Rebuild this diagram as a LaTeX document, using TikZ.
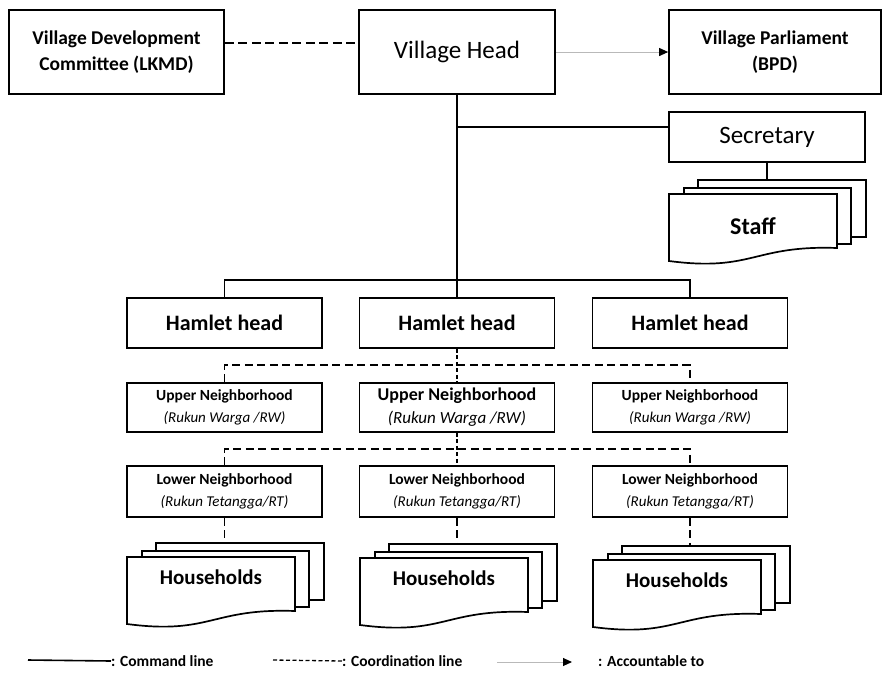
\documentclass[tikz,border=0pt]{standalone}
\usepackage{fontspec}
\setmainfont{Carlito}
\usetikzlibrary{arrows.meta}
\newcommand\mydocstack[6]{%
  \begin{scope}[shift={(#2,#3)}]
    \node[page, minimum width=168pt, minimum height=57pt] (#1-back) at (28,-15) {};
    \node[page, minimum width=167pt, minimum height=56pt] (#1-mid) at (14,-7) {};
    \draw[pageline] (0,0) -- (168,0) -- (168,54) .. controls (84,51) and (84,78) .. (0,67) -- cycle;
    \node[font=#5] (#1) at (84,#4) {#6};
  \end{scope}}
\begin{document}
\begin{tikzpicture}[x=1pt,y=-1pt,
  box/.style={draw, line width=1.7pt, fill=white, inner sep=0pt, align=center,
              minimum width=195pt, minimum height=50pt},
  page/.style={draw, line width=1.7pt, fill=white, inner sep=0pt, anchor=north west},
  pageline/.style={draw, line width=1.7pt, fill=white},
  cmd/.style={line width=1.7pt},
  coordl/.style={line width=1.6pt, dash pattern=on 8pt off 4.5pt},
  fine/.style={line width=1.3pt, dash pattern=on 4pt off 2.5pt},
  acc/.style={draw=gray!55, line width=1pt, -{Triangle[color=black,length=9pt,width=8pt]}},
  topf/.style={font=\fontsize{19.5}{26}\selectfont\bfseries},
  bigf/.style={font=\fontsize{25}{30}\selectfont},
  hamf/.style={font=\fontsize{22}{26}\selectfont\bfseries},
  nbf/.style={font=\fontsize{15.5}{22}\selectfont},
  nbbig/.style={font=\fontsize{18}{23}\selectfont},
  legf/.style={font=\fontsize{15.5}{17}\selectfont\bfseries, inner sep=0pt, anchor=west}
]
\useasboundingbox (0,0) rectangle (883,675);

% top row
\node[box, topf, minimum width=215pt, minimum height=84pt] (lkmd) at (116.5,52)
  {Village Development\\Committee (LKMD)};
\node[box, bigf, minimum width=196pt, minimum height=84pt] (vh) at (457,52) {Village Head};
\node[box, topf, minimum width=212pt, minimum height=84pt] (bpd) at (775,52)
  {Village Parliament\\(BPD)};
\node[box, bigf, minimum width=196pt, minimum height=50pt] (sec) at (767,137) {Secretary};

% staff
\mydocstack{staff}{669}{194}{32}{\fontsize{24}{28}\selectfont\bfseries}{Staff}

% hamlet heads
\node[box, hamf] (h1) at (224.5,323) {Hamlet head};
\node[box, hamf] (h2) at (457,323) {Hamlet head};
\node[box, hamf] (h3) at (690,323) {Hamlet head};

% upper neighborhoods
\node[box, nbf, minimum height=49pt] (u1) at (224.5,407.5)
  {\bfseries Upper Neighborhood\\{\fontsize{15}{22}\selectfont\itshape (Rukun Warga /RW)}};
\node[box, nbbig, minimum height=49pt] (u2) at (457,407.5)
  {\bfseries Upper Neighborhood\\{\fontsize{17}{23}\selectfont\itshape (Rukun Warga /RW)}};
\node[box, nbf, minimum height=49pt] (u3) at (690,407.5)
  {\bfseries Upper Neighborhood\\{\fontsize{15}{22}\selectfont\itshape (Rukun Warga /RW)}};

% lower neighborhoods
\node[box, nbf, minimum height=51pt] (l1) at (224.5,491.5)
  {\bfseries Lower Neighborhood\\{\fontsize{15}{22}\selectfont\itshape (Rukun Tetangga/RT)}};
\node[box, nbf, minimum height=51pt] (l2) at (457,491.5)
  {\bfseries Lower Neighborhood\\{\fontsize{15}{22}\selectfont\itshape (Rukun Tetangga/RT)}};
\node[box, nbf, minimum height=51pt] (l3) at (690,491.5)
  {\bfseries Lower Neighborhood\\{\fontsize{15}{22}\selectfont\itshape (Rukun Tetangga/RT)}};

% households
\mydocstack{hh1}{127}{557}{20}{\fontsize{21}{25}\selectfont\bfseries}{Households}
\mydocstack{hh2}{360}{558}{20}{\fontsize{21}{25}\selectfont\bfseries}{Households}
\mydocstack{hh3}{593}{560}{20}{\fontsize{21}{25}\selectfont\bfseries}{Households}

% connectors
\draw[line width=1.6pt, dash pattern=on 9pt off 4.5pt] ([yshift=9pt]lkmd.east) -- ([yshift=9pt]vh.west);
\draw[acc] (vh.east) -- (bpd.west);
\draw[cmd] (vh.south) -- (h2.north);
\coordinate (secin) at ([yshift=10pt]sec.west);
\draw[cmd] (vh.south |- secin) -- (secin);
\draw[cmd] (sec.south) -- (sec.south |- staff-back.north);

\coordinate (hbus) at (457,280);
\draw[cmd] (h1.north) |- (hbus) -| (h3.north);

\coordinate (ubus) at (457,365);
\draw[fine] (h2.south) -- (u2.north);
\draw[coordl] (u1.north) |- (ubus) -| (u3.north);

\coordinate (lbus) at (457,449);
\draw[fine] (u2.south) -- (l2.north);
\draw[coordl] (l1.north) |- (lbus) -| (l3.north);

\draw[coordl] (l1.south) -- (l1.south |- hh1-back.north);
\draw[coordl] (l2.south) -- (l2.south |- hh2-back.north);
\draw[coordl] (l3.south) -- (l3.south |- hh3-back.north);

% legend
\coordinate (lgA) at (28,660);
\node[legf] (lg1) at (111,661) {: Command line};
\draw[line width=1.6pt] (lgA) -- (lg1.west);
\coordinate (lgB) at (273,660);
\node[legf] (lg2) at (342,661) {: Coordination line};
\draw[line width=1.3pt, dash pattern=on 4pt off 2.5pt] (lgB) -- (lg2.west);
\coordinate (lgC) at (497,662);
\coordinate (lgD) at (572,662);
\draw[acc] (lgC) -- (lgD);
\node[legf] (lg3) at (598,661) {: Accountable to};
\end{tikzpicture}
\end{document}
